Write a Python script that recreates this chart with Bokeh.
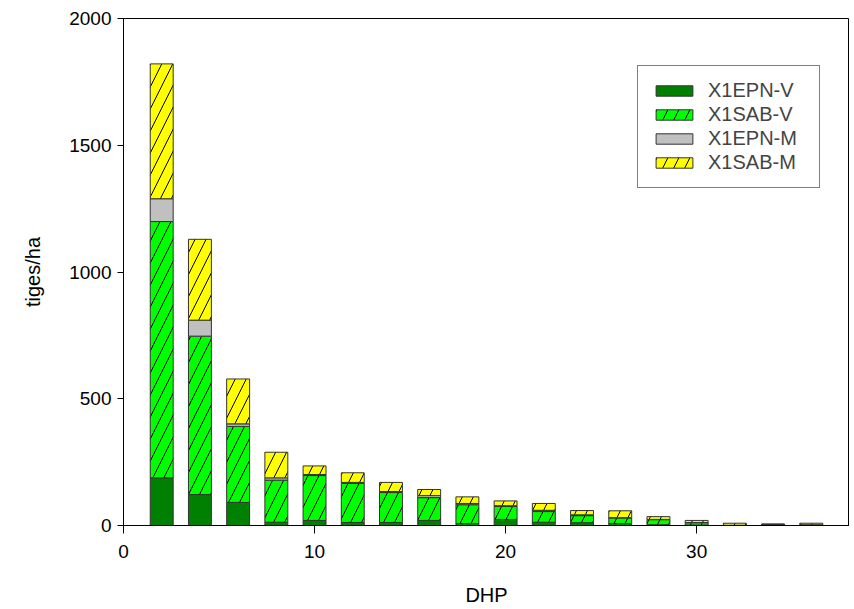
from bokeh.plotting import figure
from bokeh.models import ColumnDataSource, FixedTicker, Range1d, Legend
from bokeh.transform import stack
from bokeh.embed import file_html
from bokeh.resources import INLINE

# Data
dhp = [2, 4, 6, 8, 10, 12, 14, 16, 18, 20, 22, 24, 26, 28, 30, 32, 34, 36]
x1epn_v = [188, 122, 91, 13, 20, 12, 12, 20, 8, 24, 13, 11, 8, 3, 2, 0, 4, 2]
x1sab_v = [1011, 625, 300, 166, 177, 154, 118, 90, 74, 51, 42, 28, 22, 20, 9, 0, 0, 0]
x1epn_m = [90, 63, 10, 9, 4, 4, 4, 8, 5, 3, 5, 3, 1, 1, 1, 1, 1, 1]
x1sab_m = [532, 319, 177, 101, 34, 38, 36, 24, 26, 19, 27, 17, 27, 11, 8, 8, 0, 6]

series = ["x1epn_v", "x1sab_v", "x1epn_m", "x1sab_m"]
labels = ["X1EPN-V", "X1SAB-V", "X1EPN-M", "X1SAB-M"]
colors = ["#008000", "#00FF00", "#C0C0C0", "#FFFF00"]
hatches = [" ", "/", " ", "/"]

x_ticks = [0, 10, 20, 30]
y_ticks = [0, 500, 1000, 1500, 2000]

src = ColumnDataSource(dict(dhp=dhp, x1epn_v=x1epn_v, x1sab_v=x1sab_v,
                            x1epn_m=x1epn_m, x1sab_m=x1sab_m))

FONT = "Liberation Sans"

p = figure(width=849, height=608, output_backend="svg", toolbar_location=None,
           x_range=Range1d(0, 38), y_range=Range1d(0, 2000),
           min_border_left=123, min_border_right=0, min_border_top=18,
           min_border_bottom=83)

renderers = []
for i, s in enumerate(series):
    bottom = stack(*series[:i]) if i > 0 else 0
    r = p.vbar(x="dhp", width=1.2, bottom=bottom, top=stack(*series[:i + 1]),
               source=src, fill_color=colors[i], line_color="#333333",
               line_width=1, hatch_pattern=hatches[i], hatch_color="black",
               hatch_scale=22, hatch_weight=1)
    renderers.append((labels[i], [r]))

legend = Legend(items=renderers, location=(514, 337))
legend.border_line_color = "black"
legend.border_line_width = 1
legend.background_fill_color = "white"
legend.background_fill_alpha = 1
legend.label_text_font = FONT
legend.label_text_font_size = "20px"
legend.glyph_width = 46
legend.glyph_height = 13
legend.label_standoff = 11
legend.label_width = 98
legend.padding = 13
legend.spacing = 1
legend.margin = 0
p.add_layout(legend, "center")

p.xgrid.visible = False
p.ygrid.visible = False
p.outline_line_color = "black"
p.outline_line_width = 1

for ax in (p.xaxis[0], p.yaxis[0]):
    ax.axis_line_color = "black"
    ax.axis_line_width = 1
    ax.major_tick_line_color = "black"
    ax.minor_tick_line_color = None
    ax.major_tick_in = 0
    ax.major_label_text_font = FONT
    ax.major_label_text_font_size = "19px"
    ax.major_label_text_color = "black"
    ax.axis_label_text_font = FONT
    ax.axis_label_text_font_size = "20px"
    ax.axis_label_text_font_style = "normal"
    ax.axis_label_text_color = "black"

p.xaxis.ticker = FixedTicker(ticks=x_ticks)
p.yaxis.ticker = FixedTicker(ticks=y_ticks)
p.xaxis.major_tick_out = 8
p.yaxis.major_tick_out = 6
p.xaxis.major_label_standoff = 11
p.yaxis.major_label_standoff = 6
p.xaxis.axis_label = "DHP"
p.yaxis.axis_label = "tiges/ha"
p.xaxis.axis_label_standoff = 23
p.yaxis.axis_label_standoff = 22

open("out.html", "w").write(file_html(p, INLINE))
